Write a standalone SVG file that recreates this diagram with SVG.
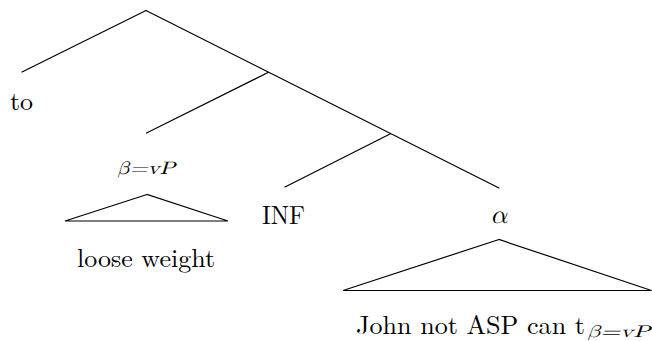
<svg xmlns="http://www.w3.org/2000/svg" width="652" height="341" viewBox="0 0 652 341">
<style>
.e{stroke:#000;stroke-width:1.2;fill:none;stroke-linecap:round}
.t{font-family:Latin Modern Roman, Liberation Serif, serif;font-size:26px;fill:#000;text-anchor:middle}
.m{font-family:Latin Modern Math, Latin Modern Roman, Liberation Serif, serif;font-style:italic;fill:#000;text-anchor:middle}
</style>
<rect width="652" height="341" fill="#fff"/>
<g id="connectors">
<line class="e" x1="146" y1="10.5" x2="22" y2="72"/>
<line class="e" x1="146" y1="10.5" x2="499" y2="188"/>
<line class="e" x1="268" y1="72.5" x2="146.5" y2="133"/>
<line class="e" x1="390" y1="134" x2="285" y2="187"/>
</g>
<g id="to"><text class="t" x="21.5" y="110">to</text></g>
<g id="beta">
<text class="m" x="146" y="174" font-size="18" textLength="58" lengthAdjust="spacingAndGlyphs">β=vP</text>
<polygon class="e" points="147,194.5 65,221 228,221"/>
<text class="t" x="146" y="266.5" textLength="138" lengthAdjust="spacingAndGlyphs">loose weight</text>
</g>
<g id="inf"><text class="t" x="283.5" y="224" textLength="43" lengthAdjust="spacingAndGlyphs">INF</text></g>
<g id="alpha">
<text class="m" x="498.5" y="223" font-size="26">α</text>
<polygon class="e" points="499,239.5 343,290.5 651.5,290.5"/>
<text class="t" x="470.5" y="334" textLength="229" lengthAdjust="spacingAndGlyphs">John not ASP can t</text>
<text class="m" x="618.5" y="337" font-size="17" textLength="63" lengthAdjust="spacingAndGlyphs">β=vP</text>
</g>
</svg>
